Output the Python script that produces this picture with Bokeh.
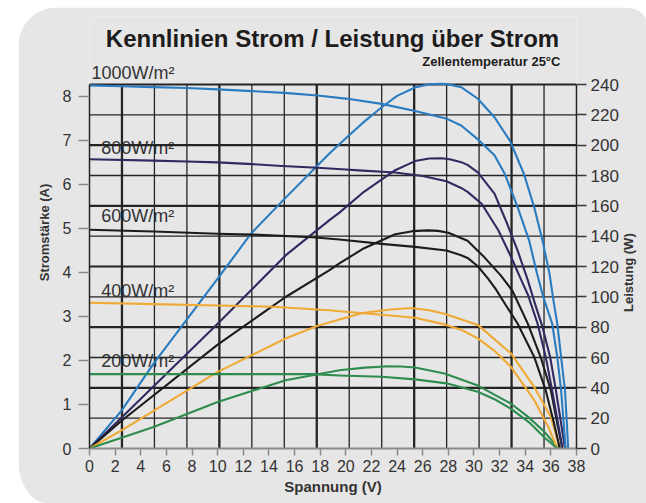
from bokeh.plotting import figure
from bokeh.models import Range1d, LinearAxis, FixedTicker
from bokeh.core.properties import value
from bokeh.embed import file_html
from bokeh.resources import INLINE
import math

# ---------------- data ----------------
title_text = "Kennlinien Strom / Leistung über Strom"
subtitle_text = "Zellentemperatur  25°C"
x_label = "Spannung (V)"
y_left_label = "Stromstärke (A)"
y_right_label = "Leistung (W)"

irradiance = ["1000W/m²", "800W/m²", "600W/m²", "400W/m²", "200W/m²"]

x_ticks = list(range(0, 39, 2))
left_ticks = [0, 1, 2, 3, 4, 5, 6, 7, 8]
right_ticks = list(range(0, 241, 20))

# current curves (V, A)
v_i_1000 = [0, 2.5, 5, 7.6, 10, 12.7, 15.2, 17.8, 20, 22.8, 25.4, 27.9, 29.0, 30.4, 31.6, 32.4, 33.4, 34.3, 34.9, 35.4, 36.1, 36.5, 36.8, 37.0, 37.15]
i_1000 = [8.25, 8.23, 8.21, 8.19, 8.16, 8.12, 8.08, 8.02, 7.95, 7.83, 7.67, 7.49, 7.34, 7.0, 6.66, 6.24, 5.49, 4.73, 4.0, 3.45, 2.84, 2.08, 1.32, 0.57, 0.0]

v_i_800 = [0, 5, 7.6, 10, 12.7, 15, 17.8, 20, 21, 23.85, 26, 27.85, 29.0, 29.5, 30.6, 31.9, 32.9, 33.7, 34.2, 34.96, 35.6, 36.1, 36.56, 36.9]
i_800 = [6.57, 6.54, 6.52, 6.5, 6.46, 6.42, 6.38, 6.34, 6.32, 6.27, 6.19, 6.07, 5.92, 5.83, 5.56, 4.96, 4.35, 3.82, 3.5, 2.84, 2.08, 1.32, 0.57, 0.0]

v_i_600 = [0, 5, 10, 12.7, 17.4, 19.5, 22.8, 25.4, 27.85, 29.0, 29.5, 30.3, 31.1, 31.7, 32.5, 33.4, 34.7, 35.6, 36.25, 36.7]
i_600 = [4.97, 4.93, 4.88, 4.86, 4.8, 4.75, 4.65, 4.58, 4.5, 4.39, 4.33, 4.14, 3.86, 3.62, 3.25, 2.84, 2.08, 1.32, 0.57, 0.0]

v_i_400 = [0, 5, 10, 14.3, 18.7, 19.5, 22.8, 25.4, 27.7, 29.0, 30.3, 31.6, 32.9, 34.7, 35.8, 36.5]
i_400 = [3.31, 3.28, 3.25, 3.22, 3.14, 3.12, 3.04, 2.97, 2.82, 2.7, 2.5, 2.22, 1.85, 1.1, 0.49, 0.0]

v_i_200 = [0, 10, 17.4, 19.5, 22.8, 25.4, 27.85, 30.3, 31.6, 32.9, 34.4, 35.5, 36.5]
i_200 = [1.69, 1.69, 1.69, 1.66, 1.63, 1.57, 1.48, 1.29, 1.12, 0.9, 0.57, 0.25, 0.0]

# power curves (V, W)
v_p_1000 = [0, 2.5, 5, 10, 12.6, 15.1, 18.7, 20, 21.3, 22.8, 24, 25.4, 26.5, 27.5, 28.3, 29.0, 30.3, 31.6, 32.8, 33.9, 34.7, 35.35, 35.9, 36.2, 36.5, 36.8, 37.1, 37.25, 37.35]
p_1000 = [0, 25, 56, 112, 141.6, 163.6, 194.3, 204.5, 214.5, 225, 232.5, 238, 240.2, 240.5, 239.6, 238.2, 230.6, 218.4, 203, 181, 159, 137, 115, 97.7, 82.3, 60.3, 38.4, 16.5, 0]

v_p_800 = [0, 2.55, 10, 15.3, 18.7, 19.5, 21.3, 23.85, 25.4, 26.5, 27.5, 28.2, 29.0, 29.5, 30.3, 31.6, 32.6, 33.4, 34.2, 34.7, 35.35, 35.95, 36.4, 36.8, 37.1]
p_800 = [0, 20.8, 82.3, 127.3, 150.4, 155.5, 168.5, 183.5, 189.5, 191.2, 191.4, 190.6, 188.8, 187, 182, 168, 148, 130.6, 111, 97, 80, 60, 38, 16.5, 0]

v_p_600 = [0, 2.55, 10, 15.3, 18.7, 19.5, 21.3, 23.85, 25.2, 26.4, 27.2, 28.0, 29.5, 30.8, 32.1, 33.0, 34.2, 35.2, 36.0, 36.5, 36.9]
p_600 = [0, 18.6, 68.5, 99.9, 117.5, 122, 131.5, 141.3, 143.3, 143.8, 143.5, 142.3, 137, 126.2, 114, 104, 82.3, 60.3, 38.4, 16.5, 0]

v_p_400 = [0, 2.5, 10, 15.3, 17.7, 19.5, 21.3, 23.3, 25.1, 26.5, 27.7, 30.3, 32.9, 34.7, 36.0, 36.7]
p_400 = [0, 12, 50.5, 72.5, 80.6, 85, 89.3, 91.5, 92.6, 91.2, 88.9, 81.5, 62.6, 40.6, 20.8, 0]

v_p_200 = [0, 5, 10, 15.3, 19.5, 21.5, 23.3, 24.3, 25.4, 27.7, 30.3, 32.9, 34.2, 35.5, 36.6]
p_200 = [0, 14.2, 30.7, 45, 51.6, 53.3, 54.2, 54.1, 53.4, 49.4, 41.5, 29.5, 21, 11, 0]

# ---------------- styles ----------------
colors = ["#2a7bc0", "#2f2b60", "#1c1c1c", "#efaa35", "#2e8c4e"]
FONT = "Liberation Sans"
PANEL = "#e6e6e6"
GRID = "#242424"
TXT = "#333333"

X_MAX = 38.0
Y_MAX = 8.27           # top of the grid in A
P_MAX = 240.0          # top of the grid in W
GRID_PX = 364.0        # grid height in px
FRAME_PX = 432.0       # frame height (extends above the grid for the titles)
Y_TOP = Y_MAX * FRAME_PX / GRID_PX
P_TOP = P_MAX * FRAME_PX / GRID_PX

p = figure(width=628, height=496, output_backend="svg", toolbar_location=None,
           x_range=Range1d(0, X_MAX), y_range=Range1d(0, Y_TOP),
           min_border_left=71, min_border_right=67, min_border_top=9, min_border_bottom=55,
           background_fill_color=PANEL, border_fill_color=PANEL)
p.extra_y_ranges = {"power": Range1d(0, P_TOP)}
p.styles = {"margin-left": "18px", "margin-top": "7px",
            "border-radius": "40px 24px 0px 28px / 40px 14px 0px 45px", "overflow": "hidden"}
p.outline_line_color = None
p.xgrid.visible = False
p.ygrid.visible = False
p.title.visible = False

# bottom axis
xa = p.xaxis[0]
xa.ticker = FixedTicker(ticks=x_ticks)
xa.axis_line_color = "#8a8a8a"
xa.axis_line_width = 2
xa.major_tick_line_color = "#8a8a8a"
xa.major_tick_line_width = 1.5
xa.major_tick_out = 7
xa.major_tick_in = 0
xa.minor_tick_line_color = None
xa.major_label_standoff = 4
xa.major_label_text_font = FONT
xa.major_label_text_font_size = "16px"
xa.major_label_text_color = TXT
xa.axis_label = x_label
xa.axis_label_standoff = 3
xa.axis_label_text_font = FONT
xa.axis_label_text_font_size = "15px"
xa.axis_label_text_font_style = "bold"
xa.axis_label_text_color = TXT

# left axis
ya = p.yaxis[0]
ya.ticker = FixedTicker(ticks=left_ticks)
ya.bounds = (0, Y_MAX)
ya.axis_line_color = GRID
ya.axis_line_width = 1.5
ya.major_tick_line_color = "#8a8a8a"
ya.major_tick_line_width = 1.5
ya.major_tick_out = 11
ya.major_tick_in = 0
ya.minor_tick_line_color = None
ya.major_label_standoff = 7
ya.major_label_text_font = FONT
ya.major_label_text_font_size = "16px"
ya.major_label_text_color = TXT
ya.axis_label = y_left_label
ya.axis_label_standoff = 8
ya.axis_label_text_font = FONT
ya.axis_label_text_font_size = "13px"
ya.axis_label_text_font_style = "bold"
ya.axis_label_text_color = TXT

# right axis (power)
ra = LinearAxis(y_range_name="power", ticker=FixedTicker(ticks=right_ticks), bounds=(0, P_MAX))
ra.axis_line_color = GRID
ra.axis_line_width = 1.5
ra.major_tick_line_color = "#3a3a3a"
ra.major_tick_line_width = 1.3
ra.major_tick_out = 10
ra.major_tick_in = 0
ra.minor_tick_line_color = None
ra.major_label_standoff = 4
ra.major_label_text_font = FONT
ra.major_label_text_font_size = "17px"
ra.major_label_text_color = TXT
p.add_layout(ra, "right")

# outer right axis carrying only the title of the power axis, read bottom to top
LABEL_AT = 90  # W, where the rotated title starts
ra2 = LinearAxis(y_range_name="power", ticker=FixedTicker(ticks=[LABEL_AT]))
ra2.major_label_overrides = {LABEL_AT: y_right_label}
ra2.major_label_orientation = math.pi / 2
ra2.axis_line_color = None
ra2.major_tick_line_color = None
ra2.minor_tick_line_color = None
ra2.major_tick_out = 0
ra2.major_tick_in = 0
ra2.major_label_standoff = 7
ra2.major_label_text_font = FONT
ra2.major_label_text_font_size = "13px"
ra2.major_label_text_font_style = "bold"
ra2.major_label_text_color = TXT
p.add_layout(ra2, "right")

# texts (inside the extended frame); drawn before the grid so the grid crosses them
p.text(x=[18.96], y=[9.316], text=[title_text], text_font=value(FONT), text_font_size="24px",
       text_font_style="bold", text_color="#1e1c1c", text_baseline="middle", text_align="center")
p.text(x=[37.03], y=[8.79], text=[subtitle_text], text_font=value(FONT), text_font_size="13px",
       text_font_style="bold", text_color="#1e1c1c", text_baseline="middle", text_align="right")
lab_x = [0.155, 0.91, 0.91, 0.91, 0.91]
lab_y = [8.52, 6.82, 5.28, 3.57, 1.98]
p.text(x=lab_x, y=lab_y, text=irradiance, text_font=value(FONT), text_font_size="18px",
       text_color=TXT, text_baseline="middle", text_align="left")

# grid (15 columns, 12 rows)
ncol = 15
gx = [k * X_MAX / ncol for k in range(1, ncol)]
gw = [2.3 if k % 3 == 1 else 1.3 for k in range(1, ncol)]
p.segment(x0=gx, y0=[0] * len(gx), x1=gx, y1=[Y_MAX] * len(gx), line_color=GRID, line_width=gw)
gy = right_ticks[1:]
hw = [2.2 if v % 40 == 0 else 1.4 for v in gy]
p.segment(x0=[0] * len(gy), y0=gy, x1=[X_MAX] * len(gy), y1=gy, line_color=GRID, line_width=hw,
          y_range_name="power")

# curves
i_curves = [(v_i_1000, i_1000), (v_i_800, i_800), (v_i_600, i_600), (v_i_400, i_400), (v_i_200, i_200)]
p_curves = [(v_p_1000, p_1000), (v_p_800, p_800), (v_p_600, p_600), (v_p_400, p_400), (v_p_200, p_200)]
for (vx, vy), c in zip(p_curves, colors):
    p.line(vx, vy, line_color=c, line_width=2.1, y_range_name="power", line_join="round")
for (vx, vy), c in zip(i_curves, colors):
    p.line(vx, vy, line_color=c, line_width=2.1, line_join="round")

open("out.html", "w").write(file_html(p, INLINE))
